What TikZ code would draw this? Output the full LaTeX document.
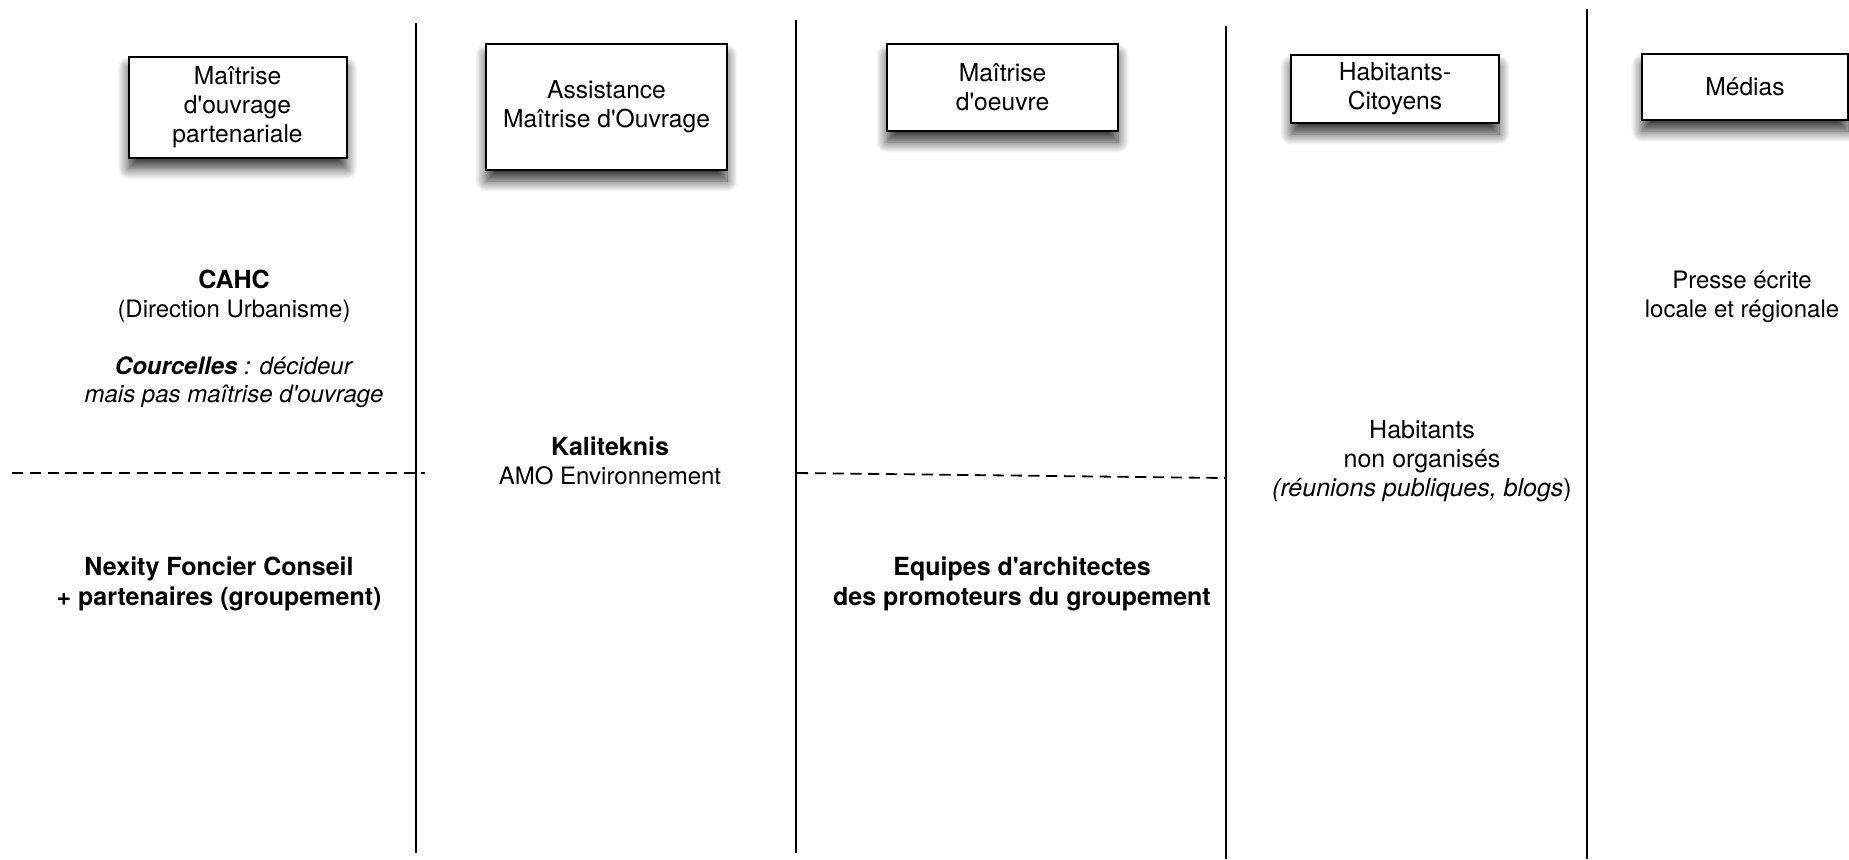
\documentclass[tikz,border=0pt]{standalone}
\usepackage{fontspec}
\setmainfont{TeX Gyre Heros}
\usetikzlibrary{shadows.blur}
\newcommand{\ap}{\textquotesingle}
\begin{document}
\begin{tikzpicture}[x=0.5pt,y=-0.5pt,
  every node/.style={font=\fontsize{12pt}{14.3pt}\selectfont, align=center, inner sep=0pt},
  boxtext/.style={font=\fontsize{12.3pt}{14.6pt}\selectfont},
  boldtext/.style={font=\fontsize{12.5pt}{14.8pt}\selectfont\bfseries},
  rolebox/.style={draw=black, line width=1pt, fill=white, minimum width=#1, boxtext,
    blur shadow={shadow xshift=0pt, shadow yshift=-5.5pt, shadow blur radius=5.5pt, shadow opacity=80, shadow blur steps=14}},
  lane/.style={line width=0.75pt, black},
  split/.style={line width=0.9pt, dash pattern=on 5.6pt off 3.3pt}]
\useasboundingbox (0,0) rectangle (1849,859);
% lanes
\coordinate (l1t) at (416,23);  \coordinate (l1b) at (416,853);
\coordinate (l2t) at (796,20);  \coordinate (l2b) at (796,853);
\coordinate (l3t) at (1226,26); \coordinate (l3b) at (1226,859);
\coordinate (l4t) at (1587,9);  \coordinate (l4b) at (1587,859);
\draw[lane] (l1t) -- (l1b);
\draw[lane] (l2t) -- (l2b);
\draw[lane] (l3t) -- (l3b);
\draw[lane] (l4t) -- (l4b);
% dashed separators
\coordinate (d1a) at (12,473);  \coordinate (d1b) at (425,473);
\coordinate (d2a) at (797,473); \coordinate (d2b) at (1225,478);
\draw[split] (d1a) -- (d1b);
\draw[split] (d2a) -- (d2b);
% header boxes
\node[rolebox=109pt, minimum height=50.5pt] (b1) at (237.5,107) {Maîtrise\\d\ap ouvrage\\partenariale};
\node[rolebox=120.5pt, minimum height=63pt] (b2) at (606.5,107) {Assistance\\Maîtrise d\ap Ouvrage};
\node[rolebox=115.5pt, minimum height=43.5pt] (b3) at (1002.5,87.5) {Maîtrise\\d\ap oeuvre};
\node[rolebox=104pt, minimum height=34pt] (b4) at (1395,89) {Habitants-\\Citoyens};
\node[rolebox=103pt, minimum height=33pt] (b5) at (1745,87) {Médias};
% contents
\node (cahc) at (234,339) {\textbf{\fontsize{12.5pt}{14.3pt}\selectfont CAHC}\\(Direction Urbanisme)\\[14.3pt]\textbf{\textit{Courcelles}}\textit{ : décideur}\\\textit{mais pas maîtrise d\ap ouvrage}};
\node[boldtext] (nexity) at (219,584) {Nexity Foncier Conseil\\+ partenaires (groupement)};
\node (kali) at (610,461) {\textbf{\fontsize{12.5pt}{14.3pt}\selectfont Kaliteknis}\\AMO Environnement};
\node[boldtext] (equipes) at (1022,584) {Equipes d\ap architectes\\des promoteurs du groupement};
\node[font=\fontsize{12.5pt}{14.6pt}\selectfont] (hab) at (1422,461) {Habitants\\non organisés\\\textit{(réunions publiques, blogs})};
\node (presse) at (1742,297) {Presse écrite\\locale et régionale};
\end{tikzpicture}
\end{document}
